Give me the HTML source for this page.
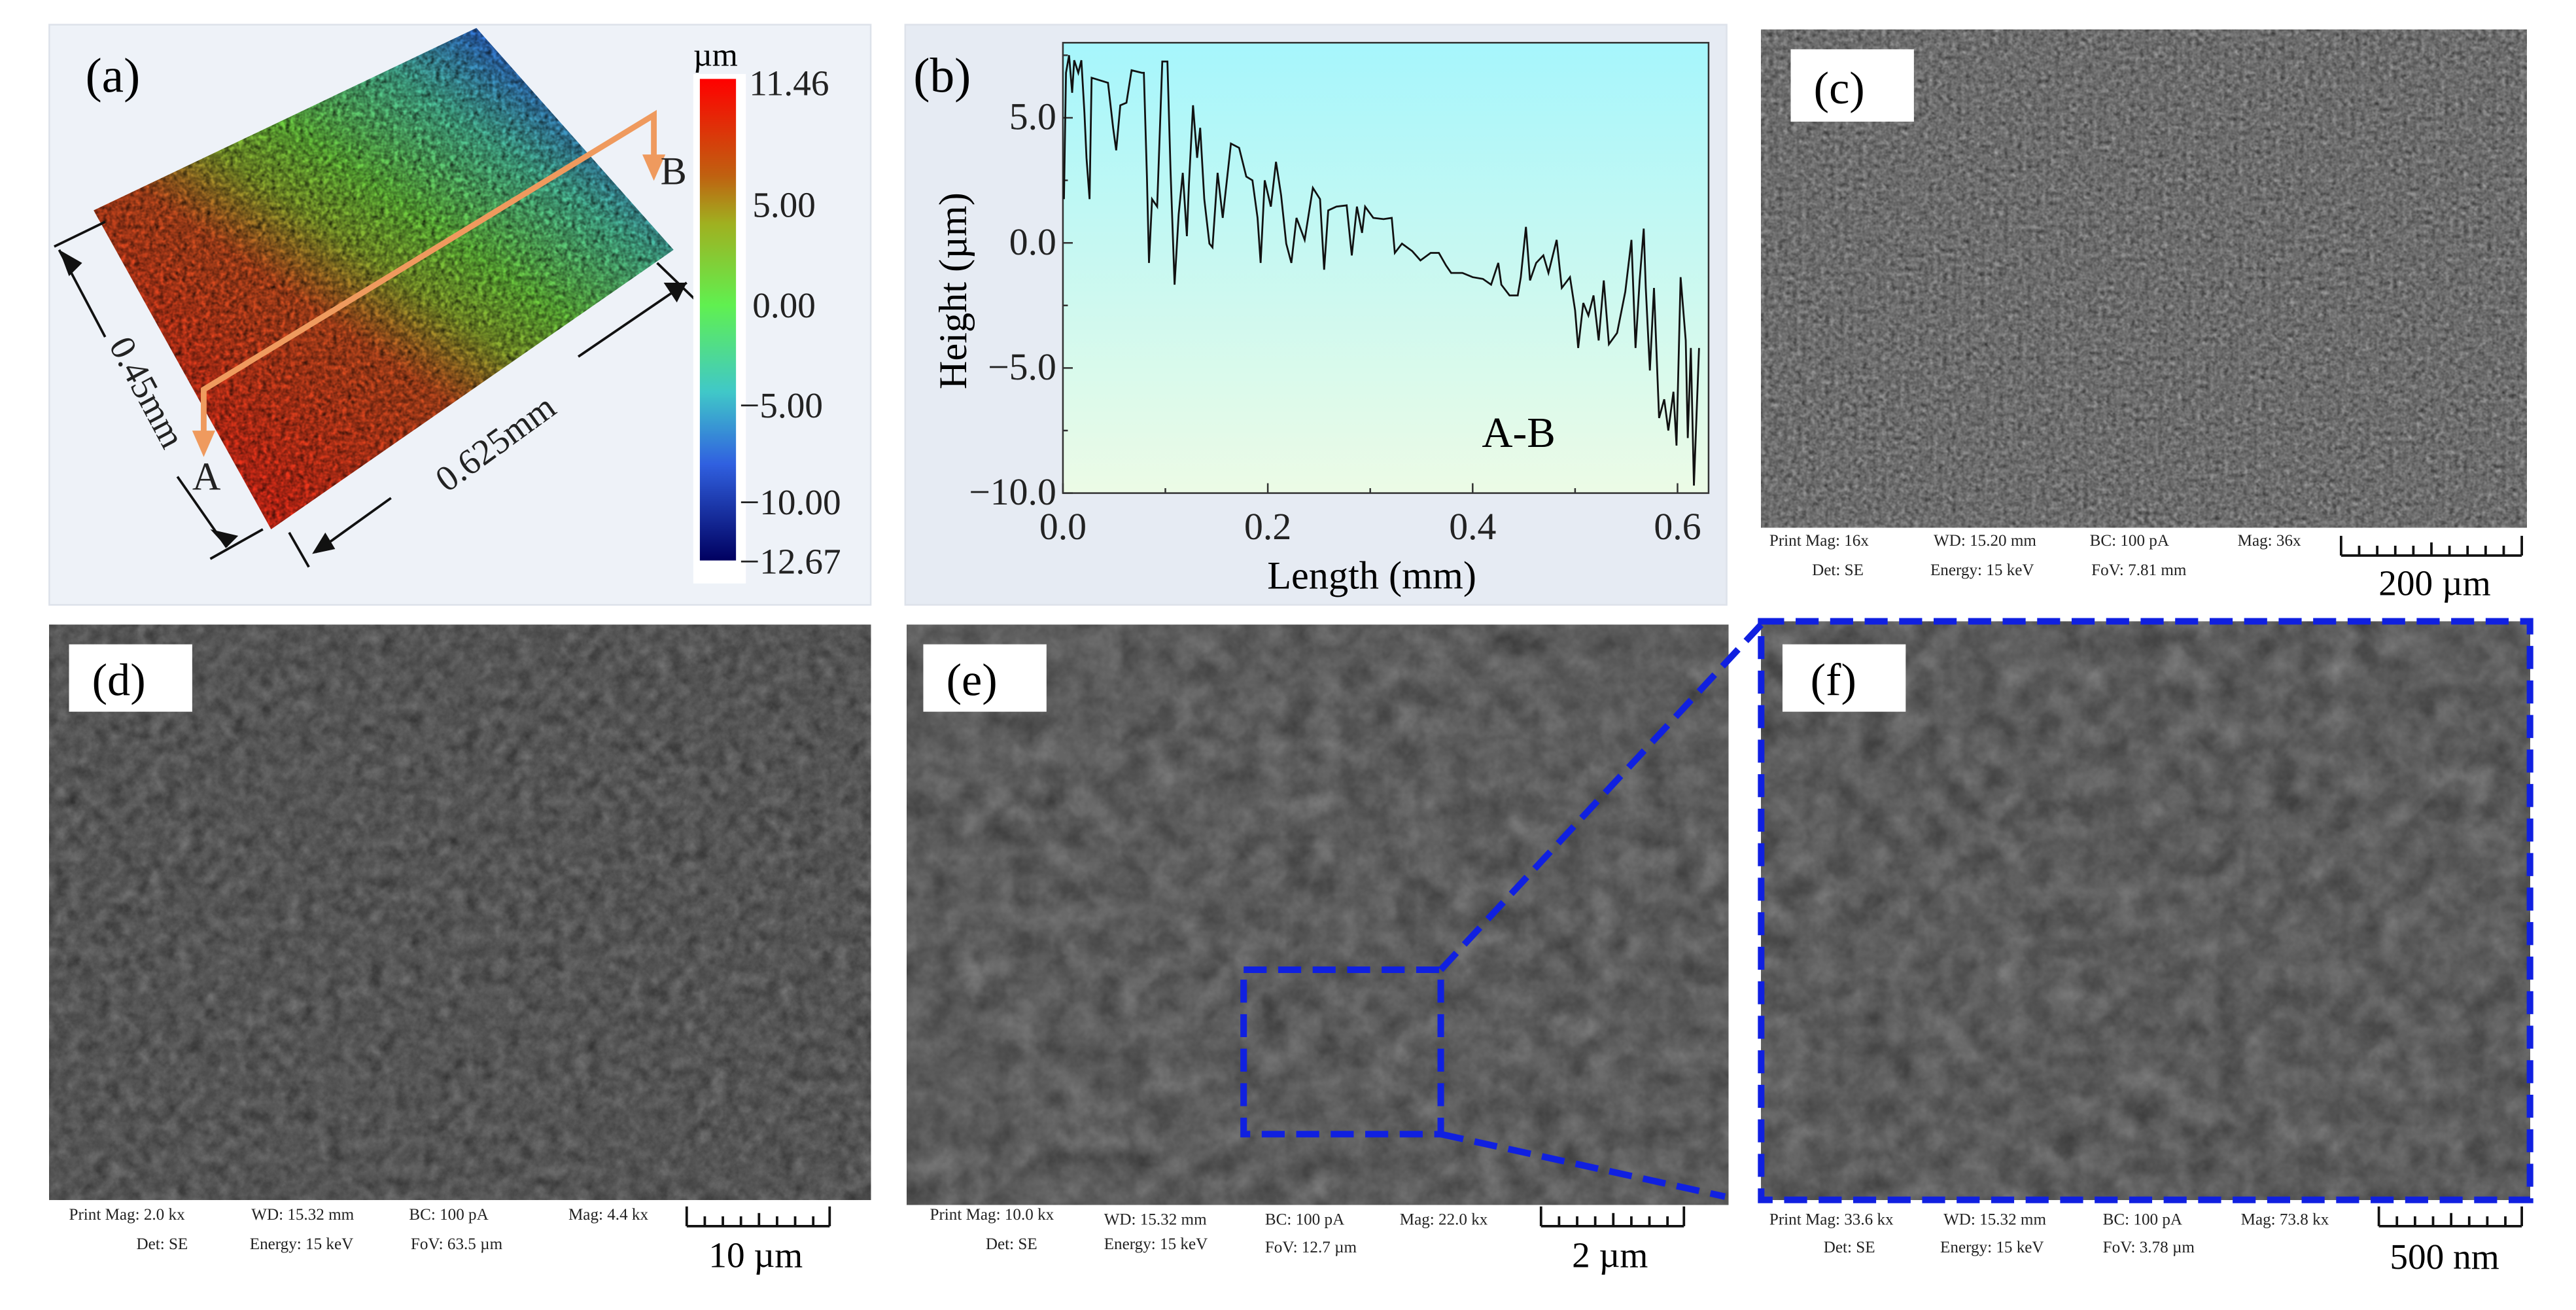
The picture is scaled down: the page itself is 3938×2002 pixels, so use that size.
<!DOCTYPE html>
<html><head><meta charset="utf-8"><style>
html,body{margin:0;padding:0;background:#fff}
svg{display:block}
text{font-family:"Liberation Serif",serif}
filter{color-interpolation-filters:sRGB}
</style></head><body>
<svg id="fig" width="3938" height="2002" viewBox="0 0 1568 797" preserveAspectRatio="none" xmlns="http://www.w3.org/2000/svg">
<defs>
<filter id="semC" x="0" y="0" width="1" height="1" color-interpolation-filters="sRGB"><feTurbulence type="fractalNoise" baseFrequency="0.35" numOctaves="2" seed="3"/><feColorMatrix type="matrix" values="0.33 0.33 0.33 0 0  0.33 0.33 0.33 0 0  0.33 0.33 0.33 0 0  0 0 0 0 1"/><feComponentTransfer><feFuncR type="linear" slope="0.7" intercept="0.08"/><feFuncG type="linear" slope="0.7" intercept="0.08"/><feFuncB type="linear" slope="0.7" intercept="0.08"/></feComponentTransfer></filter>
<filter id="semD" x="0" y="0" width="1" height="1" color-interpolation-filters="sRGB"><feTurbulence type="fractalNoise" baseFrequency="0.12" numOctaves="4" seed="7"/><feColorMatrix type="matrix" values="0.33 0.33 0.33 0 0  0.33 0.33 0.33 0 0  0.33 0.33 0.33 0 0  0 0 0 0 1"/><feComponentTransfer><feFuncR type="linear" slope="0.45" intercept="0.11"/><feFuncG type="linear" slope="0.45" intercept="0.11"/><feFuncB type="linear" slope="0.45" intercept="0.11"/></feComponentTransfer></filter>
<filter id="semF" x="0" y="0" width="1" height="1" color-interpolation-filters="sRGB"><feTurbulence type="fractalNoise" baseFrequency="0.06" numOctaves="4" seed="11"/><feColorMatrix type="matrix" values="0.33 0.33 0.33 0 0  0.33 0.33 0.33 0 0  0.33 0.33 0.33 0 0  0 0 0 0 1"/><feComponentTransfer><feFuncR type="linear" slope="0.45" intercept="0.14"/><feFuncG type="linear" slope="0.45" intercept="0.14"/><feFuncB type="linear" slope="0.45" intercept="0.14"/></feComponentTransfer></filter>
<filter id="surfNoise" x="0" y="0" width="1" height="1" color-interpolation-filters="sRGB"><feTurbulence type="fractalNoise" baseFrequency="0.35" numOctaves="2" seed="5"/><feColorMatrix type="matrix" values="0 0 0 0 0  0 0 0 0 0  0 0 0 0 0  0.6 0.6 0.6 0 -0.6"/></filter>
<linearGradient id="surfGrad" x1="0.2" y1="0.85" x2="0.8" y2="0.1">
<stop offset="0" stop-color="#f0301a"/><stop offset="0.35" stop-color="#d05020"/><stop offset="0.5" stop-color="#90b030"/><stop offset="0.62" stop-color="#70d040"/><stop offset="0.82" stop-color="#50c8a0"/><stop offset="1" stop-color="#3070e0"/></linearGradient>
<linearGradient id="cbarGrad" x1="0" y1="0" x2="0" y2="1">
<stop offset="0" stop-color="#ff0000"/><stop offset="0.2" stop-color="#c06010"/><stop offset="0.3" stop-color="#a0b020"/><stop offset="0.47" stop-color="#60f050"/><stop offset="0.65" stop-color="#40c8c8"/><stop offset="0.8" stop-color="#3060e0"/><stop offset="1" stop-color="#000060"/></linearGradient>
<linearGradient id="plotBg" x1="0" y1="0" x2="0" y2="1"><stop offset="0" stop-color="#a6f6fc"/><stop offset="1" stop-color="#ecfbe6"/></linearGradient>
<clipPath id="clipA"><polygon points="57,128 290,17 410,152 165,322"/></clipPath>
</defs>

<g>
<rect x="30" y="15" width="500" height="353" fill="#eef2f8" stroke="#dde2ea"/>
<polygon points="57,128 290,17 410,152 165,322" fill="url(#surfGrad)"/>
<rect x="57" y="17" width="353" height="305" filter="url(#surfNoise)" clip-path="url(#clipA)"/>
<text x="52" y="56" font-size="30">(a)</text>
<polyline points="124,272 124,237 398,70 398,100" fill="none" stroke="#ef9a5e" stroke-width="3.5"/>
<polygon points="117,262 131,262 124,278" fill="#ef9a5e"/>
<polygon points="391,94 405,94 398,110" fill="#ef9a5e"/>
<text x="117" y="298" font-size="24" fill="#222">A</text>
<text x="402" y="112" font-size="24" fill="#222">B</text>
<g stroke="#111" stroke-width="1.5" fill="none">
<line x1="33" y1="150" x2="64" y2="135"/><line x1="36" y1="152" x2="64" y2="205"/>
<line x1="108" y1="290" x2="138" y2="333"/><line x1="128" y1="340" x2="160" y2="322"/>
<line x1="176" y1="324" x2="188" y2="345"/><line x1="192" y1="336" x2="238" y2="303"/>
<line x1="352" y1="217" x2="418" y2="172"/><line x1="400" y1="160" x2="426" y2="185"/>
</g>
<polygon points="36,152 50,160 42,168" fill="#111"/>
<polygon points="138,333 128,322 145,326" fill="#111"/>
<polygon points="190,337 198,324 204,334" fill="#111"/>
<polygon points="418,172 404,172 412,184" fill="#111"/>
<text x="0" y="0" font-size="22" fill="#222" transform="translate(66,210) rotate(62)">0.45mm</text>
<text x="0" y="0" font-size="22" fill="#222" transform="translate(272,300) rotate(-36)">0.625mm</text>
<rect x="422" y="45" width="32" height="310" fill="#fff"/>
<rect x="426" y="48" width="22" height="293" fill="url(#cbarGrad)"/>
<text x="422" y="40" font-size="20">µm</text>
<g font-size="22" fill="#222">
<text x="456" y="58">11.46</text><text x="458" y="132">5.00</text><text x="458" y="193">0.00</text>
<text x="450" y="254">−5.00</text><text x="450" y="313">−10.00</text><text x="450" y="349">−12.67</text></g>
</g>

<g>
<rect x="551" y="15" width="500" height="353" fill="#e6ebf3" stroke="#dde2ea"/>
<rect x="647" y="26" width="393" height="274" fill="url(#plotBg)" stroke="#333" stroke-width="1"/>
<g id="axes"></g>
<path id="profile" fill="none" stroke="#111" stroke-width="1.1"/>
<text x="556" y="56" font-size="30">(b)</text>
<text x="902" y="272" font-size="26">A-B</text>
<text x="835" y="358" font-size="24" text-anchor="middle">Length (mm)</text>
<text x="0" y="0" font-size="24" text-anchor="middle" transform="translate(588,177) rotate(-90)">Height (µm)</text>
</g>

<g>
<rect x="1072" y="18" width="466" height="303" filter="url(#semC)"/>
<rect x="1090" y="30" width="75" height="44" fill="#fff"/>
<text x="1104" y="63" font-size="28">(c)</text>
<g font-size="10" fill="#222"><text x="1077" y="332">Print Mag: 16x</text><text x="1177" y="332">WD: 15.20 mm</text><text x="1272" y="332">BC: 100 pA</text><text x="1362" y="332">Mag: 36x</text>
<text x="1103" y="350">Det: SE</text><text x="1175" y="350">Energy: 15 keV</text><text x="1273" y="350">FoV: 7.81 mm</text></g>
<g stroke="#111" stroke-width="1.5"><line x1="1425" y1="338" x2="1535" y2="338"/><line x1="1425" y1="326" x2="1425" y2="338"/><line x1="1535" y1="326" x2="1535" y2="338"/>
<line x1="1436" y1="332" x2="1436" y2="338"/><line x1="1447" y1="332" x2="1447" y2="338"/><line x1="1458" y1="332" x2="1458" y2="338"/><line x1="1469" y1="332" x2="1469" y2="338"/><line x1="1480" y1="330" x2="1480" y2="338"/><line x1="1491" y1="332" x2="1491" y2="338"/><line x1="1502" y1="332" x2="1502" y2="338"/><line x1="1513" y1="332" x2="1513" y2="338"/><line x1="1524" y1="332" x2="1524" y2="338"/></g>
<text x="1482" y="362" font-size="22" text-anchor="middle">200 µm</text>
</g>

<g>
<rect x="30" y="380" width="500" height="350" filter="url(#semD)"/>
<rect x="42" y="392" width="75" height="41" fill="#fff"/>
<text x="56" y="423" font-size="28">(d)</text>
<g font-size="10" fill="#222"><text x="42" y="742">Print Mag: 2.0 kx</text><text x="153" y="742">WD: 15.32 mm</text><text x="249" y="742">BC: 100 pA</text><text x="346" y="742">Mag: 4.4 kx</text>
<text x="83" y="760">Det: SE</text><text x="152" y="760">Energy: 15 keV</text><text x="250" y="760">FoV: 63.5 µm</text></g>
<g stroke="#111" stroke-width="1.5"><line x1="418" y1="746" x2="505" y2="746"/><line x1="418" y1="734" x2="418" y2="746"/><line x1="505" y1="734" x2="505" y2="746"/>
<line x1="429" y1="740" x2="429" y2="746"/><line x1="440" y1="740" x2="440" y2="746"/><line x1="451" y1="740" x2="451" y2="746"/><line x1="462" y1="738" x2="462" y2="746"/><line x1="473" y1="740" x2="473" y2="746"/><line x1="484" y1="740" x2="484" y2="746"/><line x1="495" y1="740" x2="495" y2="746"/></g>
<text x="460" y="771" font-size="22" text-anchor="middle">10 µm</text>
</g>

<g>
<rect x="552" y="380" width="500" height="353" filter="url(#semF)"/>
<rect x="562" y="392" width="75" height="41" fill="#fff"/>
<text x="576" y="423" font-size="28">(e)</text>
<rect x="757" y="590" width="120" height="100" fill="none" stroke="#1020e0" stroke-width="4" stroke-dasharray="14,7"/>
<g font-size="10" fill="#222"><text x="566" y="742">Print Mag: 10.0 kx</text><text x="672" y="745">WD: 15.32 mm</text><text x="770" y="745">BC: 100 pA</text><text x="852" y="745">Mag: 22.0 kx</text>
<text x="600" y="760">Det: SE</text><text x="672" y="760">Energy: 15 keV</text><text x="770" y="762">FoV: 12.7 µm</text></g>
<g stroke="#111" stroke-width="1.5"><line x1="938" y1="746" x2="1025" y2="746"/><line x1="938" y1="734" x2="938" y2="746"/><line x1="1025" y1="734" x2="1025" y2="746"/>
<line x1="949" y1="740" x2="949" y2="746"/><line x1="960" y1="740" x2="960" y2="746"/><line x1="971" y1="740" x2="971" y2="746"/><line x1="982" y1="738" x2="982" y2="746"/><line x1="993" y1="740" x2="993" y2="746"/><line x1="1004" y1="740" x2="1004" y2="746"/><line x1="1015" y1="740" x2="1015" y2="746"/></g>
<text x="980" y="771" font-size="22" text-anchor="middle">2 µm</text>
</g>

<g>
<rect x="1072" y="378" width="468" height="352" filter="url(#semF)"/>
<rect x="1072" y="378" width="468" height="352" fill="none" stroke="#1020e0" stroke-width="4" stroke-dasharray="14,7"/>
<line x1="877" y1="590" x2="1072" y2="380" stroke="#1020e0" stroke-width="4" stroke-dasharray="14,7"/>
<line x1="877" y1="690" x2="1050" y2="728" stroke="#1020e0" stroke-width="4" stroke-dasharray="14,7"/>
<rect x="1085" y="392" width="75" height="41" fill="#fff"/>
<text x="1102" y="423" font-size="28">(f)</text>
<g font-size="10" fill="#222"><text x="1077" y="745">Print Mag: 33.6 kx</text><text x="1183" y="745">WD: 15.32 mm</text><text x="1280" y="745">BC: 100 pA</text><text x="1364" y="745">Mag: 73.8 kx</text>
<text x="1110" y="762">Det: SE</text><text x="1181" y="762">Energy: 15 keV</text><text x="1280" y="762">FoV: 3.78 µm</text></g>
<g stroke="#111" stroke-width="1.5"><line x1="1448" y1="746" x2="1535" y2="746"/><line x1="1448" y1="734" x2="1448" y2="746"/><line x1="1535" y1="734" x2="1535" y2="746"/>
<line x1="1459" y1="740" x2="1459" y2="746"/><line x1="1470" y1="740" x2="1470" y2="746"/><line x1="1481" y1="740" x2="1481" y2="746"/><line x1="1492" y1="738" x2="1492" y2="746"/><line x1="1503" y1="740" x2="1503" y2="746"/><line x1="1514" y1="740" x2="1514" y2="746"/><line x1="1525" y1="740" x2="1525" y2="746"/></g>
<text x="1488" y="772" font-size="22" text-anchor="middle">500 nm</text>
</g>
</svg>
<script>
const lengthMm = [0.001,0.003,0.006,0.009,0.011,0.015,0.018,0.021,0.023,0.026,0.028,0.044,0.049,0.052,0.056,0.062,0.067,0.077,0.079,0.082,0.084,0.087,0.092,0.097,0.102,0.105,0.109,0.113,0.117,0.121,0.123,0.127,0.131,0.134,0.138,0.143,0.146,0.151,0.156,0.164,0.172,0.179,0.185,0.19,0.193,0.197,0.203,0.208,0.213,0.218,0.223,0.228,0.236,0.244,0.251,0.255,0.259,0.267,0.277,0.282,0.287,0.292,0.295,0.303,0.313,0.321,0.324,0.331,0.341,0.349,0.359,0.367,0.374,0.379,0.39,0.4,0.41,0.418,0.425,0.428,0.436,0.444,0.447,0.452,0.456,0.462,0.469,0.474,0.482,0.487,0.495,0.5,0.503,0.508,0.513,0.518,0.523,0.528,0.533,0.541,0.549,0.555,0.559,0.563,0.567,0.569,0.573,0.577,0.582,0.587,0.591,0.596,0.599,0.603,0.608,0.61,0.613,0.616,0.621];
const heightUm = [1.75,6.8,7.5,6.0,7.3,6.8,7.3,5.2,3.4,1.75,6.6,6.4,4.6,3.7,5.5,5.6,6.9,6.8,6.8,2.65,-0.8,1.75,1.45,7.25,7.25,2.95,-1.67,1.15,2.8,0.27,2.35,5.5,3.4,4.6,1.75,-0.03,-0.18,2.8,1.0,3.97,3.8,2.65,2.5,1.0,-0.8,2.5,1.45,3.24,1.9,-0.03,-0.8,1.0,0.12,2.2,1.75,-1.07,1.3,1.45,1.5,-0.5,1.45,0.4,1.45,1.0,0.95,1.0,-0.4,-0.03,-0.33,-0.7,-0.4,-0.4,-0.9,-1.2,-1.2,-1.37,-1.44,-1.67,-0.8,-1.67,-2.1,-2.1,-1.37,0.64,-1.5,-0.8,-0.5,-1.2,0.12,-1.8,-1.37,-2.7,-4.2,-2.4,-2.9,-2.1,-3.9,-1.5,-4.05,-3.6,-1.95,0.12,-4.2,-1.5,0.57,-1.8,-5.1,-1.8,-7.0,-6.25,-7.5,-5.95,-8.1,-1.37,-3.9,-7.8,-4.2,-9.7,-4.2];
const xTicks = [0.0,0.2,0.4,0.6];
const xTickLabels = ["0.0","0.2","0.4","0.6"];
const yTicks = [5.0,0.0,-5.0,-10.0];
const yTickLabels = ["5.0","0.0","−5.0","−10.0"];
const yMinor = [7.5,2.5,-2.5,-7.5];
const xMinor = [0.1,0.3,0.5];

const X0=647, X1=1040, Y0=26, Y1=300, XMIN=0, XMAX=0.6303, YMIN=-10, YMAX=8.0;
const sx = v => X0 + (v-XMIN)/(XMAX-XMIN)*(X1-X0);
const sy = v => Y1 - (v-YMIN)/(YMAX-YMIN)*(Y1-Y0);
const NS='http://www.w3.org/2000/svg';
const axes=document.getElementById('axes');
function mk(tag, attrs){const e=document.createElementNS(NS,tag);for(const k in attrs)e.setAttribute(k,attrs[k]);axes.appendChild(e);return e;}
xTicks.forEach((v,i)=>{
  const t=mk('line',{x1:sx(v),x2:sx(v),y1:Y1,y2:Y1-6,stroke:'#333','stroke-width':1});
  
  
  const l=mk('text',{x:sx(v),y:Y1+28,'font-size':23,'text-anchor':'middle',fill:'#222'});
  l.textContent=xTickLabels[i];
  
  
});
xMinor.forEach(v=>{const t=mk('line',{x1:sx(v),x2:sx(v),y1:Y1,y2:Y1-3,stroke:'#333','stroke-width':1});
  
  });
yTicks.forEach((v,i)=>{
  const t=mk('line',{x1:X0,x2:X0+6,y1:sy(v),y2:sy(v),stroke:'#333','stroke-width':1});
  
  
  const l=mk('text',{x:X0-4,y:sy(v)+7,'font-size':23,'text-anchor':'end',fill:'#222'});
  l.textContent=yTickLabels[i];
  
  
});
yMinor.forEach(v=>{const t=mk('line',{x1:X0,x2:X0+3,y1:sy(v),y2:sy(v),stroke:'#333','stroke-width':1});
  
  });
document.getElementById('profile').setAttribute('d', lengthMm.map((v,i)=>(i?'L':'M')+sx(v).toFixed(2)+','+sy(heightUm[i]).toFixed(2)).join(' '));
</script>
</body></html>
